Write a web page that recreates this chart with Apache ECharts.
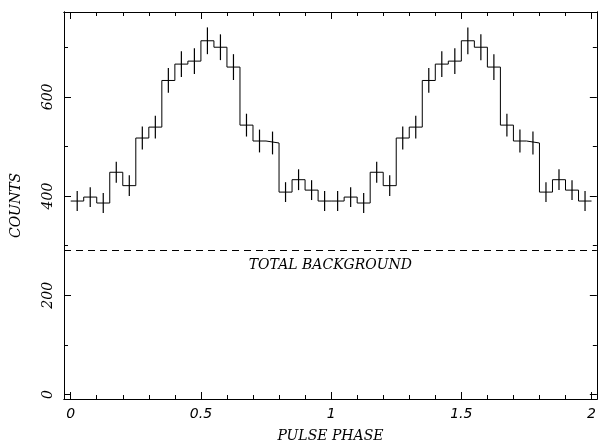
<!DOCTYPE html>
<html><head><meta charset="utf-8">
<script src="https://cdn.jsdelivr.net/npm/echarts@6/dist/echarts.min.js"></script>
<style>html,body{margin:0;padding:0;background:#fff}#c{width:599px;height:448px}</style>
</head><body><div id="c"></div>
<script>
// ---- data ----
const binWidth = 0.05;
const counts = [
  390, 398, 386, 448, 421, 517, 539, 633, 666, 672,
  713, 700, 660, 543, 511, 507, 408, 433, 412, 390,
  390, 398, 386, 448, 421, 517, 539, 633, 666, 672,
  713, 700, 660, 543, 511, 507, 408, 433, 412, 390
];
const errors = [
  20, 20, 20, 21, 21, 23, 23, 25, 26, 26,
  27, 26, 26, 23, 23, 23, 20, 21, 20, 20,
  20, 20, 20, 21, 21, 23, 23, 25, 26, 26,
  27, 26, 26, 23, 23, 23, 20, 21, 20, 20
];
const background = 290;
const backgroundLabel = 'TOTAL BACKGROUND';
const xMajorTicks = [0, 0.5, 1, 1.5, 2];
const xMinorTicks = [0.1, 0.2, 0.3, 0.4, 0.6, 0.7, 0.8, 0.9, 1.1, 1.2, 1.3, 1.4, 1.6, 1.7, 1.8, 1.9];
const yMajorTicks = [0, 200, 400, 600];
const yMinorTicks = [100, 300, 500, 700];
const xTitle = 'PULSE PHASE';
const yTitle = 'COUNTS';

// ---- build ----
const stepData = counts.map((c, i) => [i * binWidth, c]);
stepData.push([counts.length * binWidth, counts[counts.length - 1]]);
const errData = counts.map((c, i) => [(i + 0.5) * binWidth, c, errors[i]]);

const X_MIN = -0.0257, X_MAX = 2.0204, Y_MIN = -9, Y_MAX = 771;
const lineStyle = { color: '#000', width: 1 };
const serif = 'DejaVu Serif';

function xAxis(pos, ticks, len, labels) {
  return {
    type: 'value', position: pos, min: X_MIN, max: X_MAX,
    axisLine: { show: true, onZero: false, lineStyle },
    axisTick: { show: true, inside: true, length: len, customValues: ticks, lineStyle },
    axisLabel: labels ? {
      show: true, customValues: ticks, margin: 8,
      fontFamily: 'DejaVu Sans', fontStyle: 'italic', fontSize: 14, color: '#000'
    } : { show: false },
    splitLine: { show: false },
    name: labels ? xTitle : '', nameLocation: 'middle', nameGap: 30,
    nameTextStyle: { fontFamily: serif, fontStyle: 'italic', fontSize: 14, color: '#000' }
  };
}
function yAxis(pos, ticks, len, labels) {
  return {
    type: 'value', position: pos, min: Y_MIN, max: Y_MAX,
    axisLine: { show: true, onZero: false, lineStyle },
    axisTick: { show: true, inside: true, length: len, customValues: ticks, lineStyle },
    axisLabel: labels ? {
      show: true, customValues: ticks, rotate: 90, margin: 9,
      fontFamily: serif, fontStyle: 'italic', fontSize: 14, color: '#000'
    } : { show: false },
    splitLine: { show: false },
    name: labels ? yTitle : '', nameLocation: 'middle', nameGap: 41,
    nameTextStyle: { fontFamily: serif, fontStyle: 'italic', fontSize: 14, color: '#000' }
  };
}

const chart = echarts.init(document.getElementById('c'), null, { renderer: 'canvas' });
chart.setOption({
  animation: false,
  backgroundColor: '#fff',
  grid: { left: 64, right: 2, top: 12, bottom: 40, containLabel: false },
  xAxis: [
    xAxis('bottom', xMajorTicks, 7, true),
    xAxis('bottom', xMinorTicks, 4, false),
    xAxis('top', xMajorTicks, 7, false),
    xAxis('top', xMinorTicks, 4, false)
  ],
  yAxis: [
    yAxis('left', yMajorTicks, 7, true),
    yAxis('left', yMinorTicks, 4, false),
    yAxis('right', yMajorTicks, 7, false),
    yAxis('right', yMinorTicks, 4, false)
  ],
  series: [
    {
      type: 'line', data: stepData, step: 'end', symbol: 'none',
      lineStyle: { color: '#000', width: 1 }, z: 3,
      markLine: {
        silent: true, symbol: 'none', animation: false,
        lineStyle: { color: '#000', width: 1, type: [7, 5] },
        label: {
          show: true, position: 'insideMiddleBottom', distance: 8,
          formatter: backgroundLabel,
          fontFamily: serif, fontStyle: 'italic', fontSize: 14, color: '#000'
        },
        data: [{ yAxis: background }]
      }
    },
    {
      type: 'custom', data: errData, z: 4,
      renderItem: function (params, api) {
        const x = api.value(0), v = api.value(1), e = api.value(2);
        const p1 = api.coord([x, v - e]);
        const p2 = api.coord([x, v + e]);
        return {
          type: 'line',
          shape: { x1: p1[0], y1: p1[1], x2: p2[0], y2: p2[1] },
          style: { stroke: '#000', lineWidth: 1.2 }
        };
      }
    }
  ]
});
</script>
</body></html>
